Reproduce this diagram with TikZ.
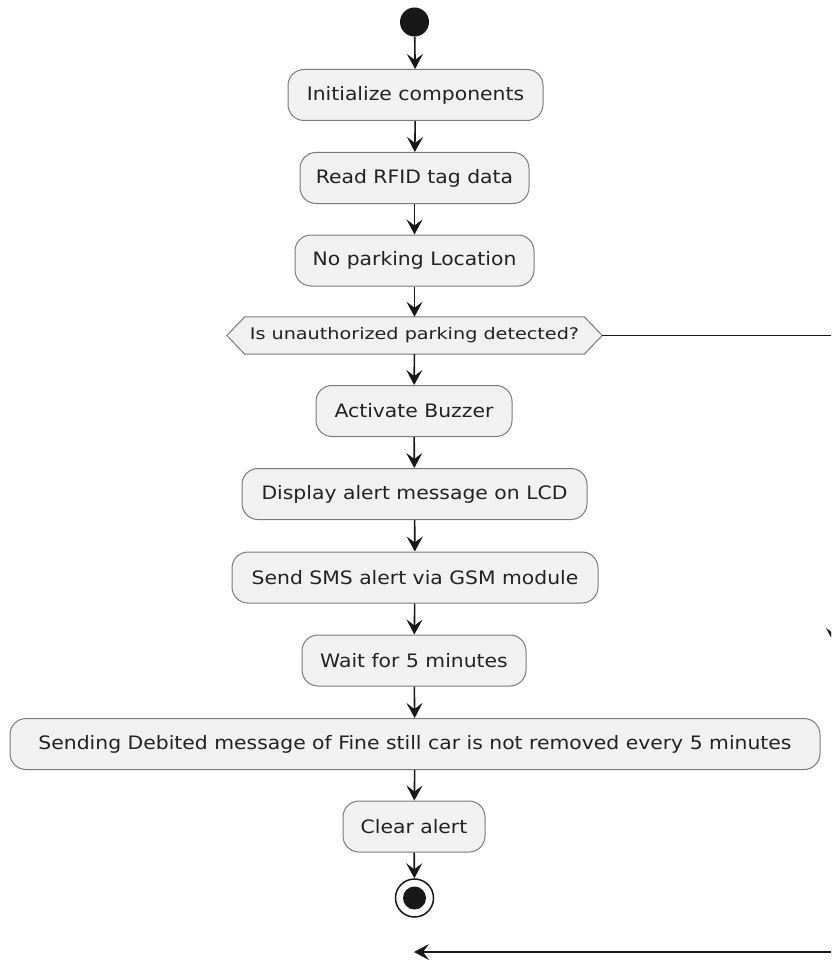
\documentclass[tikz,border=0pt]{standalone}
\usepackage{fontspec}
\setmainfont{DejaVu Sans}
\newfontfamily\boxfont{DejaVu Sans}[FakeStretch=1.1]
\newfontfamily\decfont{DejaVu Sans}[FakeStretch=1.2]
\usetikzlibrary{arrows.meta,calc,backgrounds}
\definecolor{boxfill}{HTML}{F1F1F1}
\definecolor{boxline}{HTML}{7A7A7A}
\definecolor{ink}{HTML}{181818}
\definecolor{txt}{HTML}{222222}
\begin{document}
\begin{tikzpicture}[x=1pt,y=-1pt,
  act/.style={rounded corners=16pt, draw=boxline, fill=boxfill, line width=1pt,
    minimum height=51pt, inner sep=0pt, text=txt,
    font=\boxfont\fontsize{18.5}{22}\selectfont},
  decnode/.style={draw=none, minimum width=375pt, minimum height=37pt, inner sep=0pt,
    text=txt, font=\decfont\fontsize{16}{19}\selectfont},
  decshape/.style={draw=boxline, fill=boxfill, line width=1pt},
  wire/.style={draw=ink, line width=1.6pt},
  flow/.style={wire, -{Stealth[length=15pt,width=16pt,inset=6pt]}},
]
\useasboundingbox (0,0) rectangle (831,960);
\begin{scope}[on background layer]
  \fill[white] (0,0) rectangle (831,960);
\end{scope}
\clip (0,0) rectangle (831,960);

\node[circle, fill=ink, minimum size=29pt, inner sep=0pt] (start) at (414.5,22) {};
\node[act, minimum width=255pt] (init) at (415.5,95) {Initialize components};
\node[act, minimum width=229pt] (read) at (414.5,178) {Read RFID tag data};
\node[act, minimum width=239pt] (nopark) at (414.5,260.5) {No parking Location};
\node[decnode] (dec) at (414.5,335.5) {Is unauthorized parking detected?};
\node[act, minimum width=196pt] (buzz) at (414,411) {Activate Buzzer};
\node[act, minimum width=345pt] (lcd) at (414.5,494) {Display alert message on LCD};
\node[act, minimum width=366pt] (sms) at (415,577.5) {Send SMS alert via GSM module};
\node[act, minimum width=224pt] (wait) at (414,660.5) {Wait for 5 minutes};
\node[act, minimum width=810pt] (fine) at (415,744) {Sending Debited message of Fine still car is not removed every 5 minutes};
\node[act, minimum width=142pt] (clear) at (414,826.5) {Clear alert};
\node[circle, draw=ink, line width=1.5pt, minimum size=38pt, inner sep=0pt,
  path picture={\fill[ink] (path picture bounding box.center) circle (11.5pt);}] (stop) at (414.5,898) {};

\begin{scope}[on background layer]
  \draw[decshape] (dec.west) -- ($(dec.north west)+(18,0)$) -- ($(dec.north east)+(-18,0)$)
    -- (dec.east) -- ($(dec.south east)+(-18,0)$) -- ($(dec.south west)+(18,0)$) -- cycle;
\end{scope}

\draw[flow] (start) -- (init);
\draw[flow] (init) -- (read);
\draw[flow] (read) -- (nopark);
\draw[flow] (nopark) -- (dec);
\draw[flow] (dec) -- (buzz);
\draw[flow] (buzz) -- (lcd);
\draw[flow] (lcd) -- (sms);
\draw[flow] (sms) -- (wait);
\draw[flow] (wait) -- (fine);
\draw[flow] (fine) -- (clear);
\draw[flow] (clear) -- (stop);

\coordinate (r1) at (834,335.5);
\coordinate (rmid) at (834,643);
\coordinate (r2) at (834,952);
\coordinate (loopend) at (414,952);
\draw[wire] (dec.east) -- (r1);
\draw[flow] (r1) -- (rmid);
\draw[wire] (rmid) -- (r2);
\draw[flow] (r2) -- (loopend);
\end{tikzpicture}
\end{document}
